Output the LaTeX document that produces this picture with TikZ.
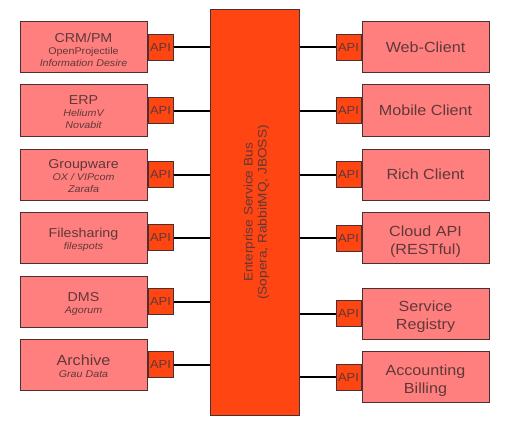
\documentclass[tikz,border=0pt]{standalone}
\usepackage{fontspec}
\setmainfont{Liberation Sans}[FakeStretch=1.1]
\definecolor{boxred}{HTML}{FF7F7F}
\definecolor{busred}{HTML}{FF4512}
\definecolor{boxedge}{HTML}{4A3030}
\definecolor{textbrown}{HTML}{603838}
\newcommand{\vendor}{\fontsize{7.3}{9}\selectfont}
\newcommand{\bigtitle}{\fontsize{11}{13.5}\selectfont}

\tikzset{every picture/.style={line width=0.75pt}}
\tikzset{
  sysbox/.style={draw=boxedge, fill=boxred, text=textbrown, minimum width=95.25pt, minimum height=38.25pt, inner sep=0pt, align=center, font=\bigtitle},
  systext/.style={text=textbrown, inner sep=0pt, align=center, font=\fontsize{9.7}{9}\selectfont},
  clienttext/.style={systext, font=\bigtitle},
  apibox/.style={draw=boxedge, fill=busred, text=textbrown, minimum width=18.75pt, minimum height=19.5pt, inner sep=0pt, font=\fontsize{8.8}{10}\selectfont},
  busbox/.style={draw=boxedge, fill=busred, minimum width=66.75pt, minimum height=303.75pt, inner sep=0pt},
  bustext/.style={text=textbrown, inner sep=0pt, align=center, rotate=90, font=\fontsize{9.3}{10.5}\selectfont},
  link/.style={draw=black, line width=1.5pt}
}

\begin{document}
\begin{tikzpicture}[x=0.75pt,y=0.75pt,yscale=-1,xscale=1]
\useasboundingbox (0,0) rectangle (505,424);

%Shape: Rectangle [bus]
\node [busbox] (esb) at (254.5,212.5) {};
\node [bustext] (esbtext) at ([xshift=1.5pt]esb.center) {Enterprise Service Bus\\(Sopera, RabbitMQ, JBOSS)};

% Left systems
\node [sysbox] (crm) at (83.5,47.5) {};
\node [systext] (crmtext) at ([yshift=1.5pt]crm.center) {CRM/PM\\{\vendor OpenProjectile}\\{\vendor\itshape Information Desire}};
\node [sysbox] (erp) at (83.5,110.5) {};
\node [systext] (erptext) at ([yshift=1.5pt]erp.center) {ERP\\{\vendor\itshape HeliumV}\\{\vendor\itshape Novabit}};
\node [sysbox] (groupware) at (83.5,174.5) {};
\node [systext] (groupwaretext) at ([yshift=1.5pt]groupware.center) {Groupware\\{\vendor\itshape OX / VIPcom}\\{\vendor\itshape Zarafa}};
\node [sysbox] (filesharing) at (83.5,237.5) {};
\node [systext] (filesharingtext) at ([yshift=1.5pt]filesharing.center) {Filesharing\\{\vendor\itshape filespots}};
\node [sysbox] (dms) at (83.5,301.5) {};
\node [systext] (dmstext) at ([yshift=1.5pt]dms.center) {DMS\\{\vendor\itshape Agorum}};
\node [sysbox] (archive) at (83.5,364.5) {};
\node [systext] (archivetext) at ([yshift=1.5pt]archive.center) {{\bigtitle Archive}\\{\vendor\itshape Grau Data}};

% Left API
\node [apibox, anchor=west] (crmapi) at (crm.east) {API};
\node [apibox, anchor=west] (erpapi) at (erp.east) {API};
\node [apibox, anchor=west] (groupwareapi) at (groupware.east) {API};
\node [apibox, anchor=west] (filesharingapi) at (filesharing.east) {API};
\node [apibox, anchor=west] (dmsapi) at (dms.east) {API};
\node [apibox, anchor=west] (archiveapi) at (archive.east) {API};

% Right clients
\node [sysbox] (web) at (425.5,47.5) {Web-Client};
\node [sysbox] (mobile) at (425.5,110.5) {Mobile Client};
\node [sysbox] (rich) at (425.5,174.5) {Rich Client};
\node [sysbox] (cloud) at (425.5,238) {};
\node [clienttext] (cloudtext) at ([yshift=2.6pt]cloud.center) {Cloud API\\(RESTful)};
\node [sysbox] (registry) at (425.5,313.5) {};
\node [clienttext] (registrytext) at ([yshift=2.6pt]registry.center) {Service\\Registry};
\node [sysbox] (accounting) at (425.5,377) {};
\node [clienttext] (accountingtext) at ([yshift=2.6pt]accounting.center) {Accounting\\Billing};

% Right API
\node [apibox, anchor=east] (webapi) at (web.west) {API};
\node [apibox, anchor=east] (mobileapi) at (mobile.west) {API};
\node [apibox, anchor=east] (richapi) at (rich.west) {API};
\node [apibox, anchor=east] (cloudapi) at (cloud.west) {API};
\node [apibox, anchor=east] (registryapi) at (registry.west) {API};
\node [apibox, anchor=east] (accountingapi) at (accounting.west) {API};

% Connectors
\draw [link] (crmapi.east) -- (crmapi.east -| esb.west);
\draw [link] (erpapi.east) -- (erpapi.east -| esb.west);
\draw [link] (groupwareapi.east) -- (groupwareapi.east -| esb.west);
\draw [link] (filesharingapi.east) -- (filesharingapi.east -| esb.west);
\draw [link] (dmsapi.east) -- (dmsapi.east -| esb.west);
\draw [link] (archiveapi.east) -- (archiveapi.east -| esb.west);
\draw [link] (webapi.west) -- (webapi.west -| esb.east);
\draw [link] (mobileapi.west) -- (mobileapi.west -| esb.east);
\draw [link] (richapi.west) -- (richapi.west -| esb.east);
\draw [link] (cloudapi.west) -- (cloudapi.west -| esb.east);
\draw [link] (registryapi.west) -- (registryapi.west -| esb.east);
\draw [link] (accountingapi.west) -- (accountingapi.west -| esb.east);

\end{tikzpicture}
\end{document}
